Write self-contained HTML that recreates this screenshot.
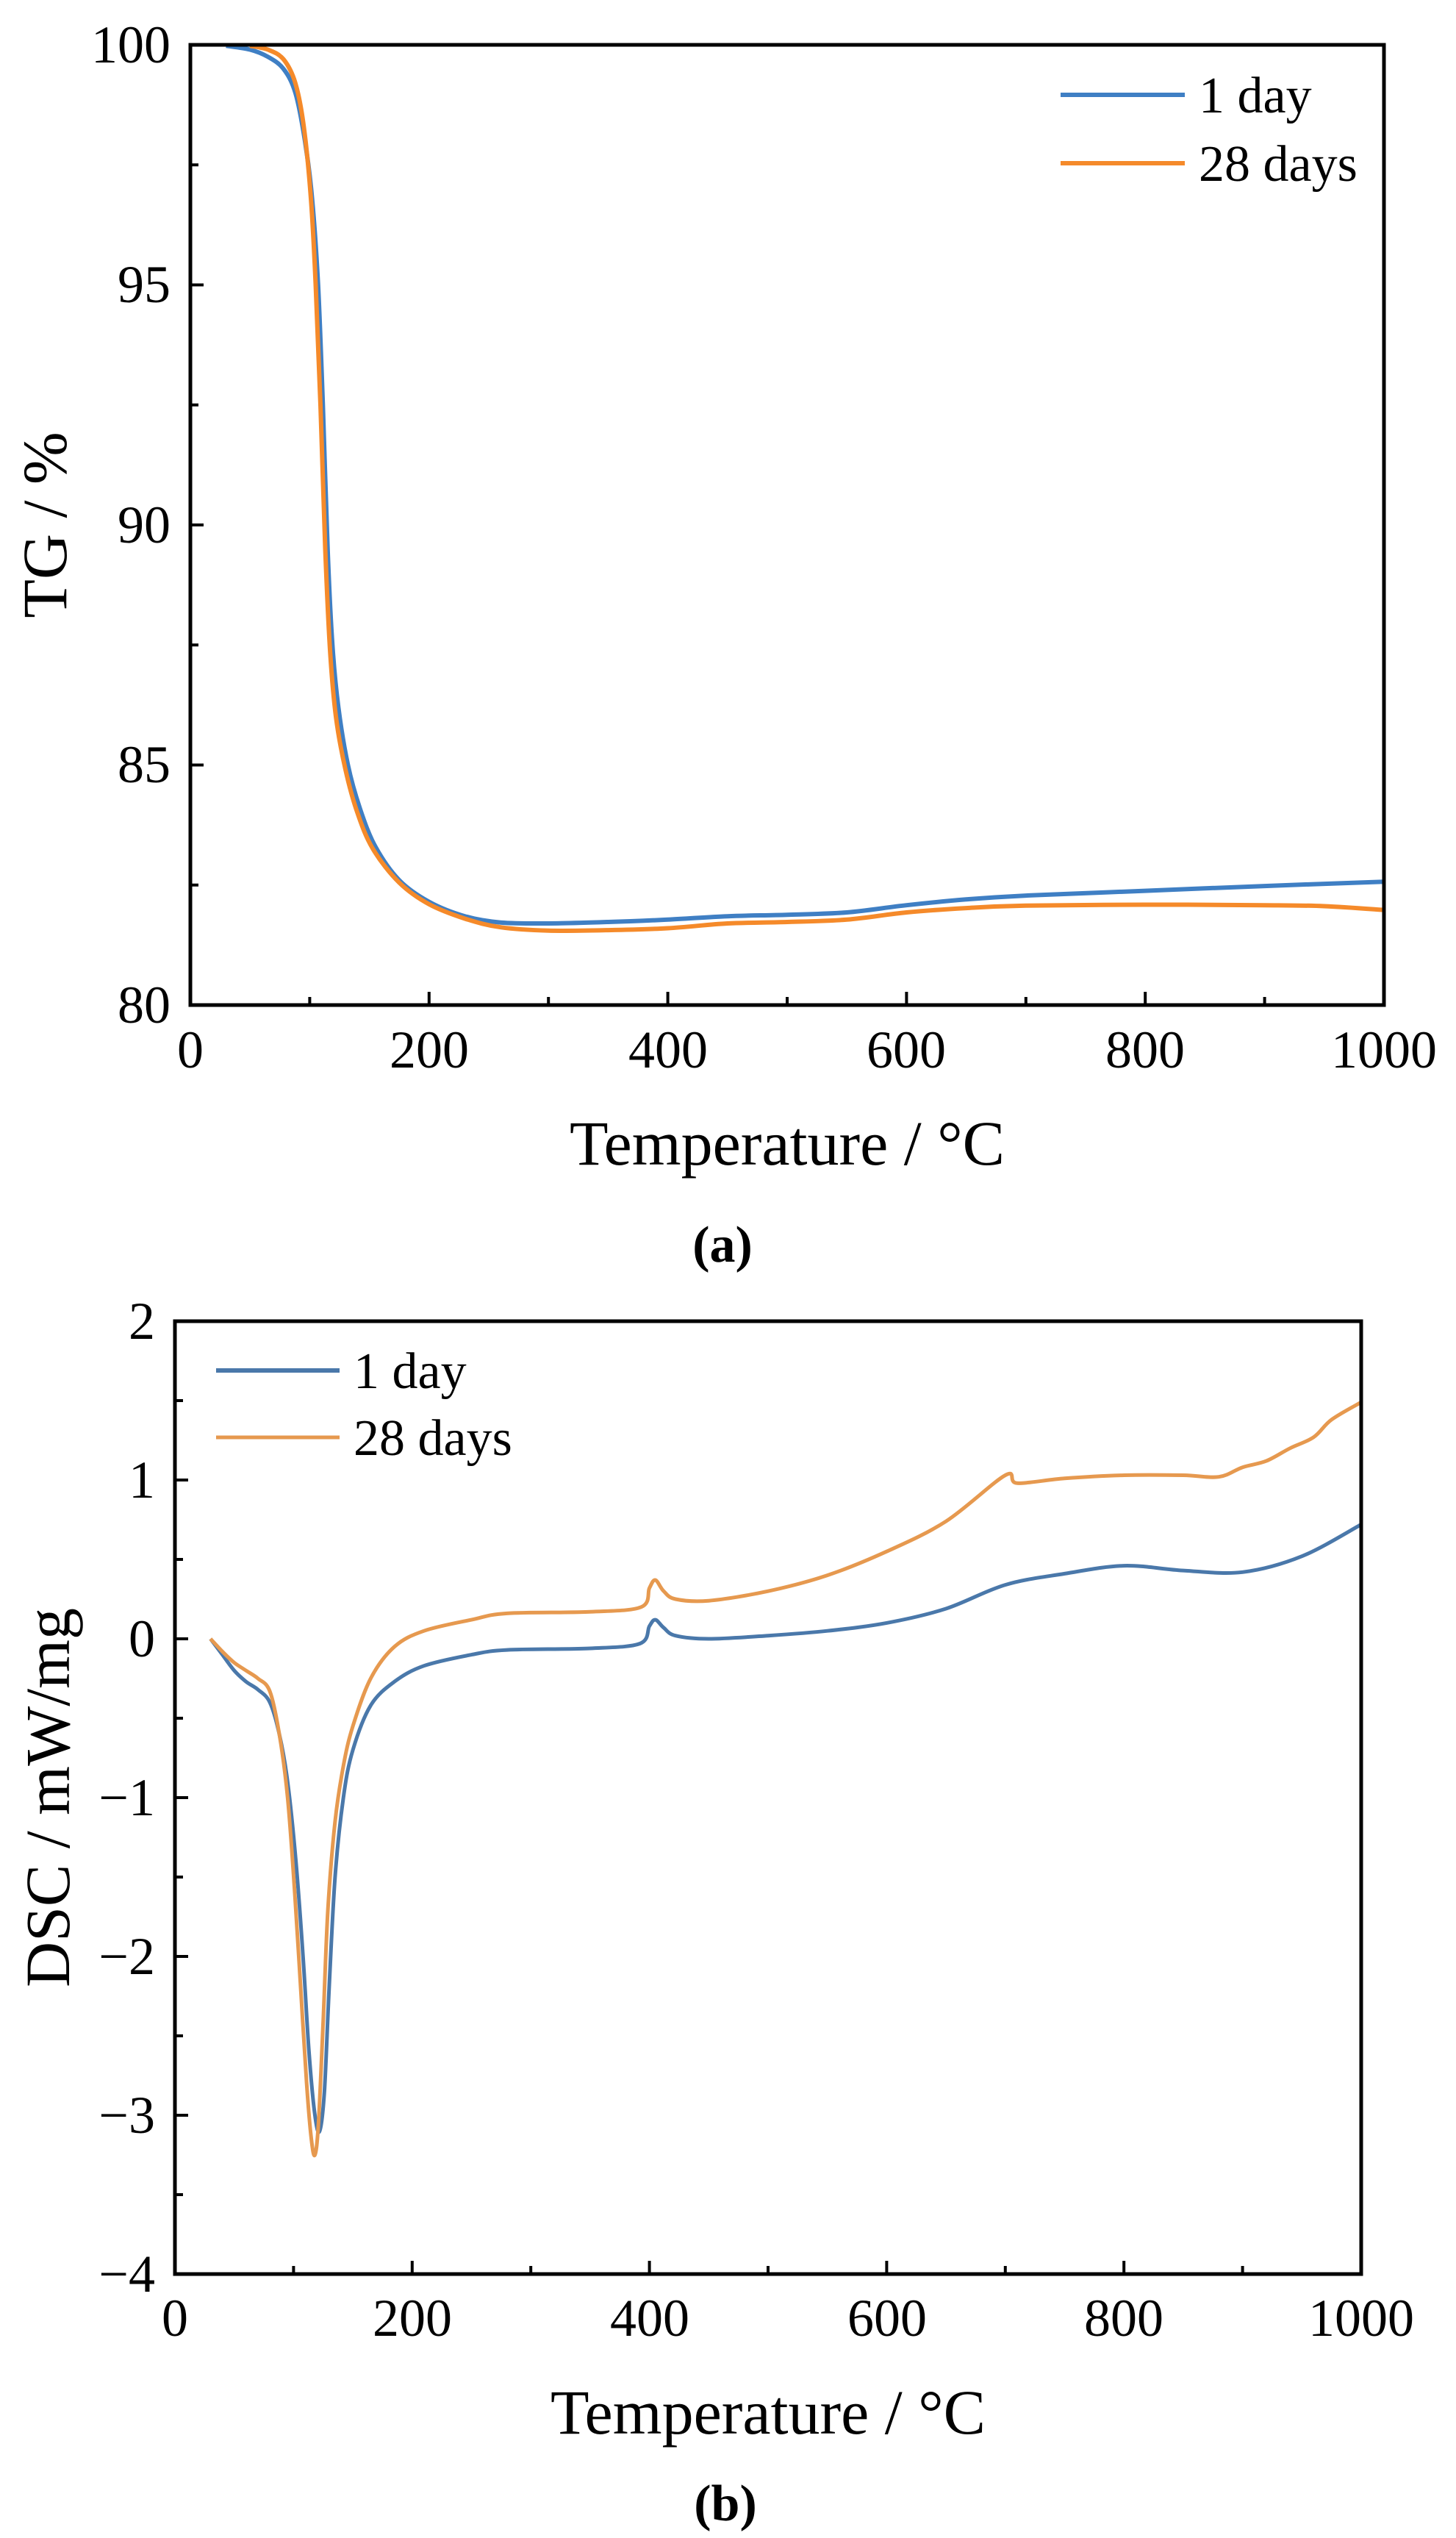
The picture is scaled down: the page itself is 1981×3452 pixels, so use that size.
<!DOCTYPE html>
<html><head><meta charset="utf-8"><style>
html,body{margin:0;padding:0;background:#fff;}
svg{display:block;}
text{font-family:"Liberation Serif",serif;fill:#000;}
</style></head><body>
<svg id="s" width="1981" height="3452" viewBox="0 0 1981 3452" xmlns="http://www.w3.org/2000/svg">
<rect width="1981" height="3452" fill="#fff"/>
<g id="a"></g>
<g id="b"></g>
<g font-size="72" text-anchor="end">
<text x="232" y="85">100</text>
<text x="232" y="411">95</text>
<text x="232" y="738">90</text>
<text x="232" y="1064">85</text>
<text x="232" y="1391">80</text>
</g>
<g font-size="72" text-anchor="middle">
<text x="259" y="1452">0</text>
<text x="584" y="1452">200</text>
<text x="909" y="1452">400</text>
<text x="1233" y="1452">600</text>
<text x="1558" y="1452">800</text>
<text x="1883" y="1452">1000</text>
</g>
<text x="1071" y="1584" font-size="86" text-anchor="middle">Temperature / °C</text>
<text transform="translate(90,714) rotate(-90)" font-size="86" text-anchor="middle">TG / %</text>
<text x="983" y="1716" font-size="70" font-weight="bold" text-anchor="middle">(a)</text>
<line x1="1443" y1="129" x2="1612" y2="129" stroke="#3f7fc4" stroke-width="6"/>
<line x1="1443" y1="222" x2="1612" y2="222" stroke="#f58a2a" stroke-width="6"/>
<text x="1631" y="153" font-size="70">1 day</text>
<text x="1631" y="246" font-size="70">28 days</text>
<g font-size="72" text-anchor="end">
<text x="211" y="1821">2</text>
<text x="211" y="2037">1</text>
<text x="211" y="2253">0</text>
<text x="211" y="2469">−1</text>
<text x="211" y="2685">−2</text>
<text x="211" y="2901">−3</text>
<text x="211" y="3117">−4</text>
</g>
<g font-size="72" text-anchor="middle">
<text x="238" y="3177">0</text>
<text x="561" y="3177">200</text>
<text x="884" y="3177">400</text>
<text x="1207" y="3177">600</text>
<text x="1529" y="3177">800</text>
<text x="1852" y="3177">1000</text>
</g>
<text x="1045" y="3310" font-size="86" text-anchor="middle">Temperature / °C</text>
<text transform="translate(94,2445) rotate(-90)" font-size="86" text-anchor="middle">DSC / mW/mg</text>
<text x="987" y="3428" font-size="70" font-weight="bold" text-anchor="middle">(b)</text>
<line x1="294" y1="1864" x2="462" y2="1864" stroke="#4a78aa" stroke-width="6"/>
<line x1="294" y1="1955" x2="462" y2="1955" stroke="#e6994f" stroke-width="5"/>
<text x="481" y="1888" font-size="70">1 day</text>
<text x="481" y="1979" font-size="70">28 days</text>
</svg>
<script>
var NS="http://www.w3.org/2000/svg";
function el(g,tag,at){var e=document.createElementNS(NS,tag);for(var k in at)e.setAttribute(k,at[k]);g.appendChild(e);return e;}
function path(pts){var d="M"+pts[0][0].toFixed(1)+","+pts[0][1].toFixed(1);
for(var i=0;i<pts.length-1;i++){var p0=pts[Math.max(0,i-1)],p1=pts[i],p2=pts[i+1],p3=pts[Math.min(pts.length-1,i+2)];
var c1=[p1[0]+(p2[0]-p0[0])/6,p1[1]+(p2[1]-p0[1])/6],c2=[p2[0]-(p3[0]-p1[0])/6,p2[1]-(p3[1]-p1[1])/6];
d+=" C"+c1[0].toFixed(1)+","+c1[1].toFixed(1)+" "+c2[0].toFixed(1)+","+c2[1].toFixed(1)+" "+p2[0].toFixed(1)+","+p2[1].toFixed(1);}
return d;}
function panel(g,L,T,R,B,xmax,ymin,ymax,ymaj,ymin2,series){
 var fx=function(x){return L+(R-L)*x/xmax;},fy=function(y){return B-(B-T)*(y-ymin)/(ymax-ymin);};
 series.forEach(function(s){var pts=s.d.map(function(p){return [fx(p[0]),fy(p[1])];});
  el(g,"path",{d:path(pts),fill:"none",stroke:s.c,"stroke-width":s.w,"stroke-linejoin":"round"});});
 for(var x=100;x<xmax;x+=100){var len=(x%200==0)?18:11;el(g,"line",{x1:fx(x),y1:B,x2:fx(x),y2:B-len,stroke:"#000","stroke-width":4});}
 for(var y=ymin+ymin2;y<ymax;y+=ymin2){var maj=Math.abs((y-ymin)/ymaj-Math.round((y-ymin)/ymaj))<1e-6;el(g,"line",{x1:L,y1:fy(y),x2:L+(maj?18:11),y2:fy(y),stroke:"#000","stroke-width":4});}
 el(g,"rect",{x:L,y:T,width:R-L,height:B-T,fill:"none",stroke:"#000","stroke-width":5});
}
panel(document.getElementById("a"),259,61,1883,1367,1000,80,100,5,2.5,[
{c:"#3f7fc4",w:6,d:[[30,99.98],[50,99.9],[65,99.75],[78,99.5],[88,99.0],[96,98.0],[102,96.8],[107,95.0],[111,92.5],[115,89.5],[119,87.5],[124,86.2],[132,85.0],[142,84.1],[155,83.3],[175,82.6],[200,82.15],[230,81.85],[260,81.72],[300,81.7],[350,81.73],[400,81.78],[450,81.85],[500,81.88],[550,81.93],[600,82.08],[650,82.2],[700,82.28],[800,82.38],[900,82.48],[1000,82.57]]},
{c:"#f58a2a",w:6,d:[[50,99.98],[65,99.9],[78,99.7],[88,99.2],[95,98.3],[101,96.8],[105,95.0],[109,92.5],[113,89.5],[117,87.4],[122,86.0],[130,84.9],[140,84.0],[153,83.25],[175,82.55],[200,82.1],[230,81.8],[260,81.62],[300,81.55],[350,81.56],[400,81.6],[450,81.7],[500,81.73],[550,81.78],[600,81.93],[650,82.02],[700,82.07],[800,82.09],[900,82.08],[950,82.06],[1000,81.98]]}
]);
panel(document.getElementById("b"),238,1797,1852,3093,1000,-4,2,1,0.5,[
{c:"#4a78aa",w:5,d:[[30,0],[40,-0.1],[50,-0.2],[60,-0.27],[70,-0.32],[80,-0.4],[88,-0.6],[95,-0.9],[102,-1.4],[108,-2.0],[113,-2.6],[118,-3.0],[122,-3.1],[126,-2.85],[130,-2.2],[135,-1.5],[142,-1.0],[150,-0.7],[165,-0.42],[185,-0.27],[210,-0.17],[250,-0.1],[280,-0.07],[350,-0.06],[392,-0.03],[400,0.08],[405,0.12],[412,0.07],[422,0.02],[450,0.0],[500,0.02],[550,0.05],[600,0.1],[650,0.19],[700,0.34],[750,0.41],[800,0.46],[850,0.43],[900,0.42],[950,0.52],[1000,0.72]]},
{c:"#e6994f",w:5,d:[[30,0],[40,-0.08],[50,-0.15],[60,-0.2],[70,-0.25],[80,-0.33],[88,-0.6],[95,-1.0],[101,-1.6],[106,-2.2],[111,-2.8],[115,-3.15],[118,-3.25],[121,-3.05],[125,-2.4],[129,-1.7],[135,-1.15],[142,-0.8],[150,-0.55],[165,-0.25],[185,-0.05],[210,0.05],[250,0.12],[280,0.16],[350,0.17],[393,0.2],[400,0.32],[405,0.37],[412,0.3],[422,0.25],[450,0.24],[500,0.3],[550,0.4],[600,0.55],[650,0.74],[700,1.03],[710,0.98],[750,1.01],[800,1.03],[850,1.03],[880,1.02],[900,1.08],[920,1.12],[940,1.2],[960,1.27],[975,1.38],[1000,1.49]]}
]);
</script>
</body></html>
